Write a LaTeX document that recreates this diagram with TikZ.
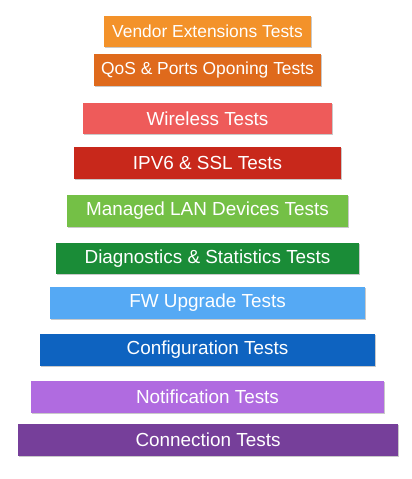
\documentclass[tikz,border=0pt]{standalone}
\usepackage{fontspec}
\setmainfont{Liberation Sans}
\usetikzlibrary{shadows}
\definecolor{c1}{HTML}{F3922A}
\definecolor{c2}{HTML}{DF6A1C}
\definecolor{c3}{HTML}{EE5B5A}
\definecolor{c4}{HTML}{C8281B}
\definecolor{c5}{HTML}{74C046}
\definecolor{c6}{HTML}{1A8C37}
\definecolor{c7}{HTML}{55A9F4}
\definecolor{c8}{HTML}{0E63C0}
\definecolor{c9}{HTML}{B06BE0}
\definecolor{c10}{HTML}{763F9A}
\tikzset{
  tier/.style={draw=none, inner sep=0pt, text=white,
    font=\fontsize{18.9}{22}\selectfont,
    drop shadow={shadow xshift=1pt, shadow yshift=-1.2pt, opacity=0.35, fill=black!60}},
  smalltier/.style={tier, font=\fontsize{17.4}{20}\selectfont},
}
\begin{document}
\begin{tikzpicture}[x=1pt,y=-1pt]
\useasboundingbox (0,0) rectangle (412,479);
\fill[white] (0,0) rectangle (412,479);
\node[smalltier, fill=c1, minimum width=207pt, minimum height=31pt] (t1) at (207.5,31.5) {Vendor Extensions Tests};
\node[smalltier, fill=c2, minimum width=227pt, minimum height=32pt] (t2) at (207.5,70) {QoS \& Ports Oponing Tests};
\node[tier, fill=c3, minimum width=249pt, minimum height=31pt] (t3) at (207.5,118.5) {Wireless Tests};
\node[tier, fill=c4, minimum width=267pt, minimum height=32pt] (t4) at (207.5,163) {IPV6 \& SSL Tests};
\node[tier, fill=c5, minimum width=281pt, minimum height=32pt] (t5) at (207.5,211) {Managed LAN Devices Tests};
\node[tier, fill=c6, minimum width=303pt, minimum height=31pt] (t6) at (207.5,258.5) {Diagnostics \& Statistics Tests};
\node[tier, fill=c7, minimum width=315pt, minimum height=32pt] (t7) at (207.5,303) {FW Upgrade Tests};
\node[tier, fill=c8, minimum width=335pt, minimum height=32pt] (t8) at (207.5,350) {Configuration Tests};
\node[tier, fill=c9, minimum width=353pt, minimum height=32pt] (t9) at (207.5,397) {Notification Tests};
\node[tier, fill=c10, minimum width=380pt, minimum height=32pt] (t10) at (208,440) {Connection Tests};
\end{tikzpicture}
\end{document}
